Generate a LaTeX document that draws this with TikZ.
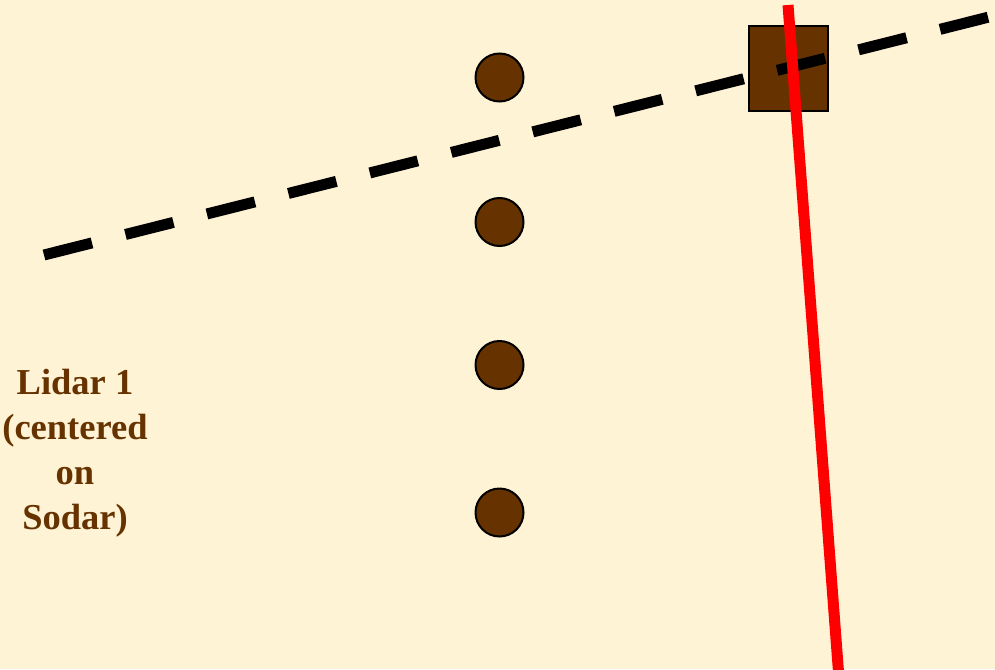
\documentclass[tikz,border=0pt]{standalone}
\usepackage{fontspec}
\setmainfont{Liberation Serif}[BoldFont={Liberation Serif Bold}]
\definecolor{bgc}{RGB}{255,243,214}
\definecolor{brn}{RGB}{102,51,0}
\tikzset{
  stn/.style={circle, draw=black, line width=2pt, fill=brn, minimum size=48pt, inner sep=0pt},
  sodar/.style={draw=black, line width=1.5pt, fill=brn, minimum width=79pt, minimum height=85pt, inner sep=0pt},
  beam/.style={line width=11pt, black, dash pattern=on 49.5pt off 34.5pt, line cap=butt},
  redbeam/.style={line width=11pt, red, line cap=butt},
  lbl/.style={text=brn, font=\fontsize{36.5}{45}\selectfont\bfseries, align=center, inner sep=0pt}
}
\begin{document}
\begin{tikzpicture}[x=1pt,y=-1pt]
\fill[bgc] (0,0) rectangle (995,669);
\useasboundingbox (0,0) rectangle (995,669);
\node[stn] (c1) at (499.5,77.5) {};
\node[stn] (c2) at (499.5,222) {};
\node[stn] (c3) at (499.5,365) {};
\node[stn] (c4) at (499.5,512.5) {};
\node[sodar] (sq) at (788.5,68.5) {};
\coordinate (d1) at (44,255);
\coordinate (d2) at (989,17);
\draw[beam] (d1) -- (d2);
\coordinate (r1) at (788,5);
\coordinate (r2) at (838.5,672);
\draw[redbeam] (r1) -- (r2);
\node[lbl] (txt) at (75,453) {Lidar 1\\(centered\\on\\Sodar)};
\end{tikzpicture}
\end{document}
